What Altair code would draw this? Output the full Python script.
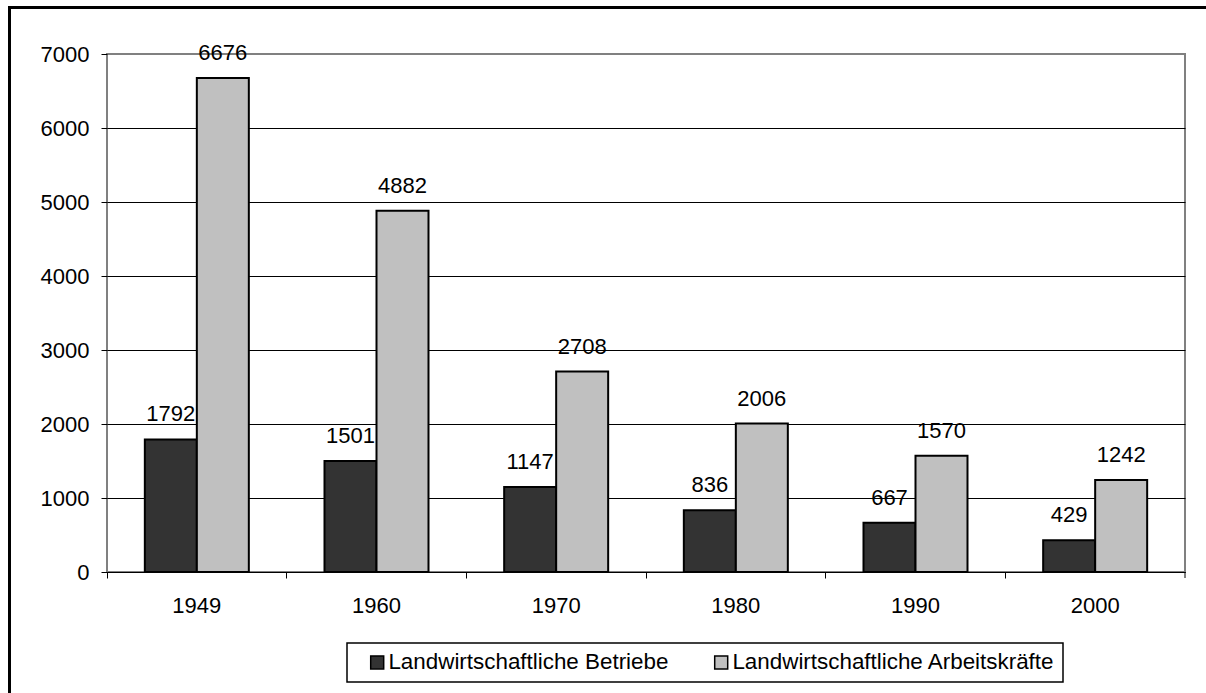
import altair as alt
import pandas as pd

# Agricultural holdings and workforce (in thousands), per census year
years = ["1949", "1960", "1970", "1980", "1990", "2000"]
betriebe = [1792, 1501, 1147, 836, 667, 429]
arbeitskraefte = [6676, 4882, 2708, 2006, 1570, 1242]
series = ["Landwirtschaftliche Betriebe", "Landwirtschaftliche Arbeitskräfte"]
series_colors = ["#333333", "#c0c0c0"]
y_ticks = [0, 1000, 2000, 3000, 4000, 5000, 6000, 7000]

rows = []
for i, year in enumerate(years):
    rows.append({"Jahr": year, "Reihe": series[0], "Wert": betriebe[i]})
    rows.append({"Jahr": year, "Reihe": series[1], "Wert": arbeitskraefte[i]})
df = pd.DataFrame(rows)

W, H = 1078, 518
FONT = "Liberation Sans"
FS = 22

x_enc = alt.X(
    "Jahr:N",
    sort=years,
    scale=alt.Scale(paddingInner=0, paddingOuter=0),
    axis=alt.Axis(
        title=None,
        labelAngle=0,
        bandPosition=0,
        tickSize=6,
        labelPadding=17,
        labelFont=FONT,
        labelFontSize=FS,
        labelColor="black",
        domainColor="black",
        tickColor="black",
    ),
)
xoff_enc = alt.XOffset(
    "Reihe:N", sort=series, scale=alt.Scale(paddingInner=0, paddingOuter=0.7276)
)
y_enc = alt.Y(
    "Wert:Q",
    scale=alt.Scale(domain=[0, 7000], nice=False),
    axis=alt.Axis(
        title=None,
        values=y_ticks,
        format="d",
        tickSize=6,
        labelPadding=12,
        labelFont=FONT,
        labelFontSize=FS,
        labelColor="black",
        domain=False,
        tickColor="black",
        gridColor="black",
        gridOpacity=alt.condition("datum.value == 7000", alt.value(0), alt.value(1)),
    ),
)

bars = alt.Chart(df).mark_bar(stroke="black", strokeWidth=2).encode(
    x=x_enc,
    xOffset=xoff_enc,
    y=y_enc,
    color=alt.Color(
        "Reihe:N",
        sort=series,
        scale=alt.Scale(domain=series, range=series_colors),
        legend=alt.Legend(
            title=None,
            orient="none",
            legendX=240,
            legendY=589,
            direction="horizontal",
            symbolType="square",
            symbolSize=169,
            symbolStrokeColor="black",
            symbolStrokeWidth=1.5,
            symbolOffset=11,
            labelOffset=0,
            labelLimit=0,
            labelFont=FONT,
            labelFontSize=22.4,
            labelColor="black",
            columnPadding=30,
            padding=8,
            strokeColor="black",
        ),
    ),
)

labels = alt.Chart(df).mark_text(
    baseline="alphabetic", dy=-18, font=FONT, fontSize=FS, color="black"
).encode(x=x_enc, xOffset=xoff_enc, y=y_enc, text="Wert:Q")

one = pd.DataFrame({"k": [0]})

# outer frame of the figure: left and top edges
frame_left = alt.Chart(one).mark_rule(color="black", strokeWidth=3).encode(
    x=alt.value(-97.5), y=alt.value(-48), y2=alt.value(H + 121)
)
frame_top = alt.Chart(one).mark_rule(color="black", strokeWidth=3).encode(
    x=alt.value(-99), x2=alt.value(W + 21), y=alt.value(-46.5)
)

# closing tick at the right end of the category axis
end_tick = alt.Chart(one).mark_rule(color="black", strokeWidth=1).encode(
    x=alt.value(W), y=alt.value(H), y2=alt.value(H + 6)
)

chart = (
    alt.layer(frame_left, frame_top, bars, labels, end_tick)
    .properties(
        width=W,
        height=H,
        autosize=alt.AutoSizeParams(type="none"),
        padding={"left": 107, "top": 54, "right": 21, "bottom": 121},
        background="white",
    )
    .configure_view(stroke="#808080", strokeWidth=2)
    .configure_legend(strokeWidth=1.5)
)

chart.save("out.html", embed_options={"renderer": "svg", "actions": False})
